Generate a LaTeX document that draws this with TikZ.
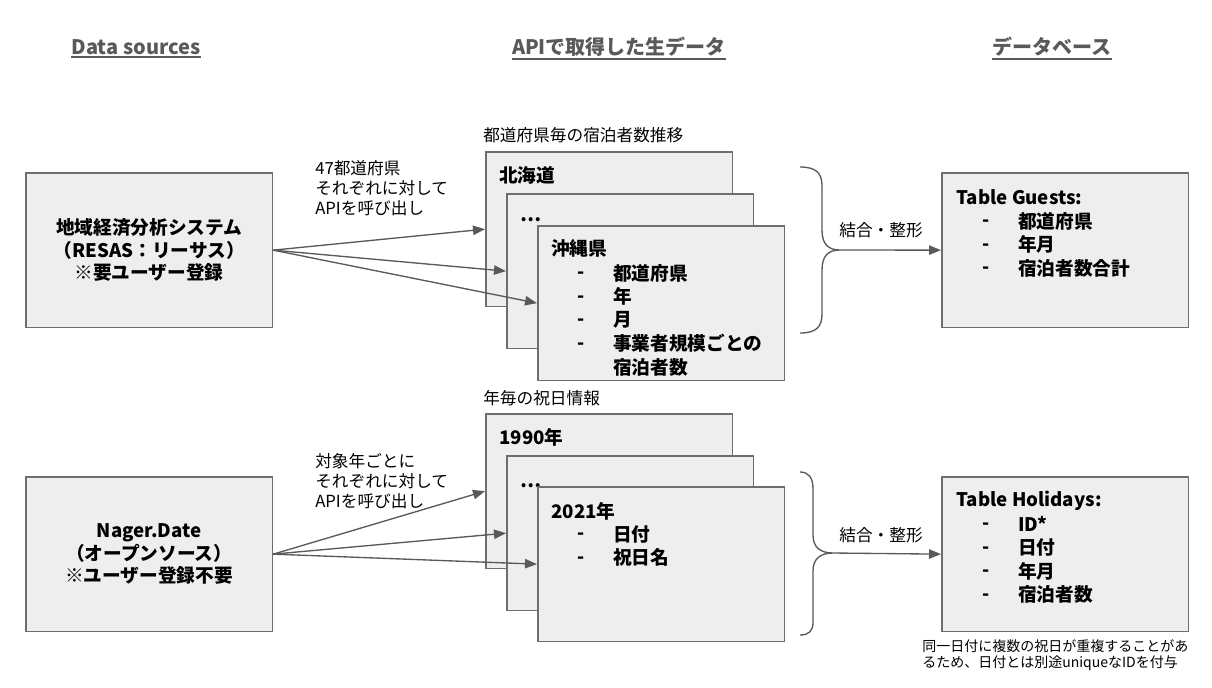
\documentclass[tikz,border=0pt]{standalone}
\usepackage{fontspec}
\setmainfont{Noto Sans CJK JP}
\usetikzlibrary{arrows.meta}
\definecolor{boxfill}{HTML}{EEEEEE}
\definecolor{boxline}{HTML}{6E6E6E}
\definecolor{linkgray}{HTML}{595959}
\definecolor{headgray}{HTML}{595959}

\begin{document}
\begin{tikzpicture}[x=0.75pt, y=-0.75pt,
			panel/.style={draw=boxline, fill=boxfill, line width=1.2pt, minimum width=185pt, minimum height=116pt, inner sep=0pt, anchor=north west},
			heading/.style={font=\bfseries\fontsize{15}{18}\selectfont, text=headgray, inner sep=0pt},
			boxtext/.style={font=\bfseries\fontsize{14}{17}\selectfont, anchor=west, inner sep=0pt},
			bullet/.style={boxtext, yshift=-2pt},
			label/.style={font=\fontsize{12.5}{15}\selectfont, align=left, anchor=west, inner sep=0pt},
			note/.style={font=\fontsize{10.5}{12.5}\selectfont, align=left, anchor=west, inner sep=0pt},
			link/.style={draw=linkgray, line width=1pt, -{Triangle[length=9pt,width=7pt]}},
			brace/.style={draw=linkgray, line width=1pt},
		]
		\useasboundingbox (0,0) rectangle (1212,687);
		\fill[white] (0,0) rectangle (1212,687);

		% headings
		\node[heading] (srchead) at (136,47) {Data sources};
		\node[heading] (rawhead) at (619,47) {APIで取得した生データ};
		\node[heading] (dbhead) at (1052,47) {データベース};
		\foreach \h in {srchead,rawhead,dbhead}
			\draw[headgray, line width=1.4pt] ([yshift=-1.5pt]\h.south west) -- ([yshift=-1.5pt]\h.south east);

		% data sources
		\node[panel] (resas) at (25,172) {};
		\node[boxtext, align=center, anchor=center] (resastext) at (resas.center) {地域経済分析システム\\（RESAS：リーサス）\\※要ユーザー登録};
		\node[panel] (nager) at (25,476) {};
		\node[boxtext, align=center, anchor=center] (nagertext) at (nager.center) {Nager.Date\\（オープンソース）\\※ユーザー登録不要};

		% raw data: guests per prefecture
		\node[label] (prefcap) at (483,135) {都道府県毎の宿泊者数推移};
		\node[panel] (hokkaido) at (485,151) {};
		\node[boxtext] (hokkaidotext) at (499,175) {北海道};
		\node[panel] (prefdots) at (506,193) {};
		\node[boxtext, anchor=base west] (prefdotstext) at (520,221) {…};
		\node[panel] (okinawa) at (537,225) {};
		\node[boxtext] (okinawatext) at (551,248) {沖縄県};
		\foreach \d/\t [count=\i from 0] in {-/都道府県,-/年,-/月,-/事業者規模ごとの,/宿泊者数} {
			\node[bullet] (okidash\i) at (577,{273+23.5*\i}) {\d};
			\node[boxtext] (okiitem\i) at (613,{273+23.5*\i}) {\t};
		}

		% raw data: holidays per year
		\node[label] (yearcap) at (483,398) {年毎の祝日情報};
		\node[panel] (y1990) at (485,413) {};
		\node[boxtext] (y1990text) at (499,437) {1990年};
		\node[panel] (yeardots) at (506,455) {};
		\node[boxtext, anchor=base west] (yeardotstext) at (520,487) {…};
		\node[panel] (y2021) at (537,486) {};
		\node[boxtext] (y2021text) at (551,511) {2021年};
		\foreach \d/\t [count=\i from 0] in {-/日付,-/祝日名} {
			\node[bullet] (ydash\i) at (577,{534+23.5*\i}) {\d};
			\node[boxtext] (yitem\i) at (613,{534+23.5*\i}) {\t};
		}

		% api calls
		\node[label] (preflabel) at (315,188) {47都道府県\\それぞれに対して\\APIを呼び出し};
		\node[label] (yearlabel) at (315,481) {対象年ごとに\\それぞれに対して\\APIを呼び出し};
		\foreach \b in {hokkaido,prefdots,okinawa}
			\draw[link] (resas.east) -- (\b.west);
		\foreach \b in {y1990,yeardots,y2021}
			\draw[link] (nager.east) -- (\b.west);

		% database
		\node[panel] (guests) at (941,172) {};
		\node[boxtext] (gueststext) at (956,197) {Table Guests:};
		\foreach \t [count=\i from 0] in {都道府県,年月,宿泊者数合計} {
			\node[bullet] (gdash\i) at (982,{221+23.5*\i}) {-};
			\node[boxtext] (gitem\i) at (1018,{221+23.5*\i}) {\t};
		}
		\node[panel] (holidays) at (941,476) {};
		\node[boxtext] (holidaystext) at (956,501) {Table Holidays:};
		\foreach \t [count=\i from 0] in {ID*,日付,年月,宿泊者数} {
			\node[bullet] (hdash\i) at (982,{524+23.5*\i}) {-};
			\node[boxtext] (hitem\i) at (1018,{524+23.5*\i}) {\t};
		}
		\node[note] (idnote) at (922,655) {同一日付に複数の祝日が重複することがあ\\るため、日付とは別途uniqueなIDを付与};

		% merge braces
		\coordinate (mergeguests) at (840,250);
		\coordinate (mergeholidays) at (833,553);
		\draw[brace] (800,167) .. controls (816,167) and (822,173) .. (822,186) -- (822,230)
			.. controls (822,244) and (828,250) .. (mergeguests)
			.. controls (828,250) and (822,256) .. (822,270) -- (822,314)
			.. controls (822,327) and (816,333) .. (800,333);
		\draw[brace] (800,472) .. controls (809,472) and (813,478) .. (813,489) -- (813,535)
			.. controls (813,547) and (820,553) .. (mergeholidays)
			.. controls (820,553) and (813,559) .. (813,571) -- (813,622)
			.. controls (813,631) and (809,635) .. (800,635);
		\node[label, anchor=center] (mergelabelA) at (881,230) {結合・整形};
		\node[label, anchor=center] (mergelabelB) at (881,535) {結合・整形};
		\draw[link] (mergeguests) -- (guests.west);
		\draw[link] (mergeholidays) -- (holidays.west);
		\end{tikzpicture}
\end{document}
